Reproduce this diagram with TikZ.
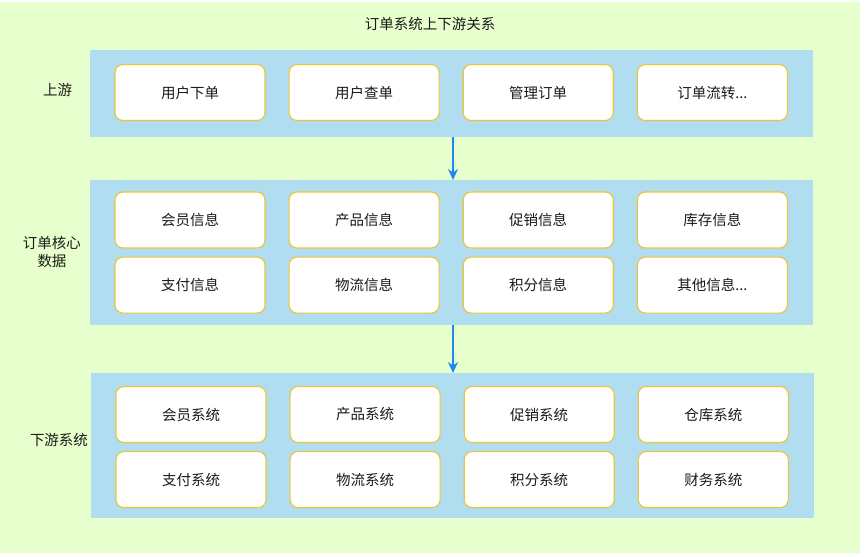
\documentclass[tikz,border=0pt]{standalone}
\usepackage{fontspec}
\setmainfont{Noto Sans CJK SC}
\usepackage{tikz}
\usetikzlibrary{arrows.meta,positioning}
\definecolor{BgGreen}{HTML}{E6FFCC}
\definecolor{BandBlue}{HTML}{B1DDF0}
\definecolor{BoxGold}{HTML}{EDC531}
\definecolor{FlowBlue}{HTML}{1E88F0}
\definecolor{TextGray}{HTML}{1A1A1A}

\begin{document}
\begin{tikzpicture}[
    x=1pt, y=-1pt,
    font=\fontsize{14.5}{18.5}\selectfont,
    text=TextGray,
    node distance=8pt and 23pt,
    % 层背景色带
    band/.style={rectangle, fill=BandBlue, minimum width=723pt, inner sep=0pt, anchor=north west},
    % 各层中的功能块
    item/.style={rectangle, rounded corners=8pt, draw=BoxGold, line width=1.1pt, fill=white, minimum width=150pt, minimum height=56pt, inner sep=0pt},
    tag/.style={align=center, inner sep=0pt},
    arrow/.style={-{Stealth[length=11pt,width=10pt]}, line width=1.3pt, draw=FlowBlue}
]
\useasboundingbox (0,0) rectangle (865,557);
\fill[BgGreen] (0,2) rectangle (860,553);

% 标题
\node[tag] (title) at (430,24) {订单系统上下游关系};

% 三层色带
\node[band, minimum height=87pt] (upband) at (90,50) {};
\node[band, minimum height=145pt] (coreband) at (90,180) {};
\node[band, minimum height=145pt] (downband) at (91,373) {};

% 左侧层名
\node[tag] (uplabel) at (57.5,90) {上游};
\node[tag] (corelabel) at (52,252) {订单核心\\数据};
\node[tag] (downlabel) at (59,440) {下游系统};

% 上游
\node[item] (place) at (190,92.5) {用户下单};
\node[item, right=of place] (query) {用户查单};
\node[item, right=of query] (manage) {管理订单};
\node[item, right=of manage] (flow) {订单流转...};

% 订单核心数据
\node[item] (member) at (190,220) {会员信息};
\node[item, right=of member] (product) {产品信息};
\node[item, right=of product] (promo) {促销信息};
\node[item, right=of promo] (stock) {库存信息};
\node[item, below=of member] (pay) {支付信息};
\node[item, right=of pay] (logistic) {物流信息};
\node[item, right=of logistic] (points) {积分信息};
\node[item, right=of points] (other) {其他信息...};

% 下游系统
\node[item] (membersys) at (191,414.5) {会员系统};
\node[item, right=of membersys] (productsys) {产品系统};
\node[item, right=of productsys] (promosys) {促销系统};
\node[item, right=of promosys] (warehousesys) {仓库系统};
\node[item, below=of membersys] (paysys) {支付系统};
\node[item, right=of paysys] (logisticsys) {物流系统};
\node[item, right=of logisticsys] (pointssys) {积分系统};
\node[item, right=of pointssys] (financesys) {财务系统};

% 层间流向
\coordinate (axis) at (453,0);
\draw[arrow] (upband.south -| axis) -- (coreband.north -| axis);
\draw[arrow] (coreband.south -| axis) -- (downband.north -| axis);

\end{tikzpicture}
\end{document}
